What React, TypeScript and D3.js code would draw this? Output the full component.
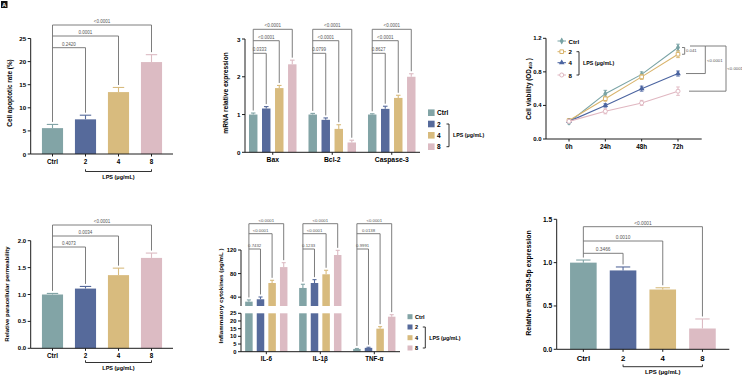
import React from "react";
import * as d3 from "d3";

// ---------- data ----------
const groups = ["Ctrl", "2", "4", "8"];
const barColors = ["#82a4a6", "#566a9b", "#d8bb7e", "#dcbbc3"];
const lineColors = ["#79a3a5", "#d9b46c", "#4b64a0", "#e0b7c1"];

// A: apoptosis
const apoptosisMean = [5.6, 7.5, 13.4, 19.9];
const apoptosisErr = [0.8, 0.9, 1.0, 1.6];
const apoptosisP = ["0.2420", "0.0001", "<0.0001"];
const apoptosisTicks = [0, 5, 10, 15, 20, 25];

// B: mRNA
const genes = ["Bax", "Bcl-2", "Caspase-3"];
const mrnaMean = [
  [1.0, 1.16, 1.7, 2.33],
  [1.0, 0.86, 0.62, 0.26],
  [1.0, 1.15, 1.44, 2.0],
];
const mrnaErr = [
  [0.04, 0.05, 0.07, 0.11],
  [0.03, 0.05, 0.11, 0.06],
  [0.02, 0.07, 0.07, 0.08],
];
const mrnaP = [
  ["0.0333", "<0.0001", "<0.0001"],
  ["0.0799", "<0.0001", "<0.0001"],
  ["0.8627", "<0.0001", "<0.0001"],
];
const mrnaTicks = [0, 1, 2, 3];

// C: viability
const timePoints = ["0h", "24h", "48h", "72h"];
const viabilityMean = [
  [0.2, 0.54, 0.77, 1.09],
  [0.22, 0.48, 0.74, 1.01],
  [0.21, 0.4, 0.6, 0.78],
  [0.21, 0.33, 0.43, 0.57],
];
const viabilityErr = [
  [0.02, 0.04, 0.03, 0.04],
  [0.02, 0.03, 0.03, 0.04],
  [0.01, 0.02, 0.03, 0.03],
  [0.01, 0.03, 0.03, 0.05],
];
const viabilityTicks = [0, 0.4, 0.8, 1.2];
const viabilityP = ["0.041", "<0.0001", "<0.0001"];

// D: permeability
const permeabilityMean = [1.0, 1.11, 1.36, 1.68];
const permeabilityErr = [0.02, 0.04, 0.13, 0.09];
const permeabilityP = ["0.4073", "0.0034", "<0.0001"];
const permeabilityTicks = [0, 0.5, 1.0, 1.5, 2.0];

// E: cytokines (broken axis at 25)
const cytokines = ["IL-6", "IL-1β", "TNF-α"];
const cytokineMean = [
  [32.4, 36.4, 64, 91],
  [55.6, 64, 78.8, 111.5],
  [1.8, 2.5, 15.0, 22.8],
];
const cytokineErr = [
  [2.9, 3.9, 4.6, 7.5],
  [6.3, 5.7, 6.8, 7.9],
  [0.3, 0.4, 1.3, 1.3],
];
const cytokineP = [
  ["0.7432", "<0.0001", "<0.0001"],
  ["0.1233", "<0.0001", "<0.0001"],
  ["0.9991", "0.0138", "<0.0001"],
];
const cytokineLowTicks = [0, 5, 10, 15, 20, 25];
const cytokineHighTicks = [40, 80, 120];
const cytokineBreak = 25;

// F: miR-539-5p
const mirMean = [1.0, 0.91, 0.69, 0.24];
const mirErr = [0.03, 0.04, 0.02, 0.11];
const mirP = ["0.3466", "0.0010", "<0.0001"];
const mirTicks = [0, 0.5, 1.0, 1.5];

// ---------- styling ----------
const FONT = "'Liberation Sans', Arial, Helvetica, sans-serif";
const AXIS = "#1c1c1c";
const BRACKET = "#6f6f6f";
const PTEXT = "#555";
const LPS = "LPS (μg/mL)";

type Lin = d3.ScaleLinear<number, number>;

function YAxis({ x, scale, ticks, fmt, fs = 6 }: { x: number; scale: Lin; ticks: number[]; fmt: (v: number) => string; fs?: number }) {
  const [r0, r1] = scale.range();
  return (
    <g>
      <line x1={x} x2={x} y1={r0} y2={r1} stroke={AXIS} strokeWidth={1} />
      {ticks.map((t) => (
        <g key={t}>
          <line x1={x - 3} x2={x} y1={scale(t)} y2={scale(t)} stroke={AXIS} strokeWidth={1} />
          <text x={x - 4.5} y={scale(t)} textAnchor="end" dominantBaseline="central" fontSize={fs} fontWeight="bold">
            {fmt(t)}
          </text>
        </g>
      ))}
    </g>
  );
}

function XAxis({ x0, x1, y, ticks, labels, fs = 6.5, dy = 8.5 }: { x0: number; x1: number; y: number; ticks: number[]; labels: string[]; fs?: number; dy?: number }) {
  return (
    <g>
      <line x1={x0} x2={x1} y1={y} y2={y} stroke={AXIS} strokeWidth={1} />
      {ticks.map((t, i) => (
        <g key={i}>
          <line x1={t} x2={t} y1={y} y2={y + 2.5} stroke={AXIS} strokeWidth={1} />
          <text x={t} y={y + dy} textAnchor="middle" dominantBaseline="central" fontSize={fs} fontWeight="bold">
            {labels[i]}
          </text>
        </g>
      ))}
    </g>
  );
}

function YLabel({ x, y, fs = 6.5, children }: { x: number; y: number; fs?: number; children: React.ReactNode }) {
  return (
    <text transform={`translate(${x},${y}) rotate(-90)`} textAnchor="middle" dominantBaseline="central" fontSize={fs} fontWeight="bold">
      {children}
    </text>
  );
}

function Bar({ x, w, y0, y1, err, color }: { x: number; w: number; y0: number; y1: number; err: number; color: string }) {
  const cx = x + w / 2;
  const cap = w * 0.27;
  return (
    <g>
      <rect x={x} y={y1} width={w} height={Math.max(0, y0 - y1)} fill={color} />
      <line x1={cx} x2={cx} y1={y1} y2={err} stroke={color} strokeWidth={1.1} />
      <line x1={cx - cap} x2={cx + cap} y1={err} y2={err} stroke={color} strokeWidth={1.1} />
    </g>
  );
}

// brackets comparing the first bar to each of the others
function Brackets({ cx, tops, lines, labels, fs = 4.5 }: { cx: number[]; tops: number[]; lines: number[]; labels: string[]; fs?: number }) {
  const gap = 2.5;
  return (
    <g>
      <line x1={cx[0]} x2={cx[0]} y1={lines[lines.length - 1]} y2={tops[0] - gap} stroke={BRACKET} strokeWidth={0.9} />
      {lines.map((ly, i) => (
        <g key={i}>
          <line x1={cx[0]} x2={cx[i + 1]} y1={ly} y2={ly} stroke={BRACKET} strokeWidth={0.9} />
          <line x1={cx[i + 1]} x2={cx[i + 1]} y1={ly} y2={tops[i + 1] - gap} stroke={BRACKET} strokeWidth={0.9} />
          <text x={(cx[0] + cx[i + 1]) / 2} y={ly - 2.2} textAnchor="middle" fontSize={fs} fill={PTEXT}>
            {labels[i]}
          </text>
        </g>
      ))}
    </g>
  );
}

function LpsBracket({ x0, x1, y, fs = 5.5 }: { x0: number; x1: number; y: number; fs?: number }) {
  return (
    <g>
      <path d={`M${x0},${y - 2.2}V${y}H${x1}V${y - 2.2}`} fill="none" stroke={AXIS} strokeWidth={0.9} />
      <text x={(x0 + x1) / 2} y={y + 5} textAnchor="middle" dominantBaseline="central" fontSize={fs} fontWeight="bold">
        {LPS}
      </text>
    </g>
  );
}

function SimpleBars({ xs, y, mean, err, pvals, lines, pfs }: { xs: d3.ScaleBand<string>; y: Lin; mean: number[]; err: number[]; pvals: string[]; lines: number[]; pfs?: number }) {
  const w = xs.bandwidth();
  const cx = groups.map((g) => (xs(g) as number) + w / 2);
  const tops = mean.map((m, i) => y(m + err[i]));
  return (
    <g>
      {groups.map((g, i) => (
        <Bar key={g} x={xs(g) as number} w={w} y0={y(0)} y1={y(mean[i])} err={tops[i]} color={barColors[i]} />
      ))}
      <Brackets cx={cx} tops={tops} lines={lines} labels={pvals} fs={pfs} />
    </g>
  );
}

function GroupLegend({ x, ys, size, fs, bracketX, lpsFs }: { x: number; ys: number[]; size: number; fs: number; bracketX: number; lpsFs: number }) {
  return (
    <g>
      {groups.map((g, i) => (
        <g key={g}>
          <rect x={x} y={ys[i] - size / 2} width={size} height={size} fill={barColors[i]} />
          <text x={x + size + 2.5} y={ys[i]} dominantBaseline="central" fontSize={fs} fontWeight="bold">
            {g}
          </text>
        </g>
      ))}
      <path d={`M${bracketX - 2.5},${ys[1]}H${bracketX}V${ys[3]}H${bracketX - 2.5}`} fill="none" stroke={AXIS} strokeWidth={0.9} />
      <text x={bracketX + 4} y={(ys[1] + ys[3]) / 2} dominantBaseline="central" fontSize={lpsFs} fontWeight="bold">
        {LPS}
      </text>
    </g>
  );
}

const fmt0 = (v: number) => d3.format("d")(v);
const fmt1 = (v: number) => d3.format(".1f")(v);

function PanelA() {
  const x = d3.scaleBand<string>().domain(groups).range([36, 168]).paddingInner(0.36).paddingOuter(0.18);
  const y = d3.scaleLinear().domain([0, 25]).range([154, 38.5]);
  const cx = groups.map((g) => (x(g) as number) + x.bandwidth() / 2);
  return (
    <g>
      <SimpleBars xs={x} y={y} mean={apoptosisMean} err={apoptosisErr} pvals={apoptosisP} lines={[47.7, 36, 25]} />
      <YAxis x={30.7} scale={y} ticks={apoptosisTicks} fmt={fmt0} fs={6.2} />
      <XAxis x0={30.7} x1={173} y={154} ticks={cx} labels={groups} fs={6.3} dy={7.5} />
      <LpsBracket x0={cx[1]} x1={cx[3]} y={171.5} />
      <YLabel x={9} y={93} fs={6.4}>Cell apoptotic rate (%)</YLabel>
    </g>
  );
}

function PanelB() {
  const x0 = d3.scaleBand<string>().domain(genes).range([243, 421.5]);
  const x1 = d3.scaleBand<string>().domain(groups).range([0, x0.bandwidth()]).paddingInner(0.35).paddingOuter(0.46);
  const y = d3.scaleLinear().domain([0, 3]).range([152.3, 39]);
  const w = x1.bandwidth();
  return (
    <g>
      {genes.map((gene, gi) => {
        const base = x0(gene) as number;
        const cx = groups.map((g) => base + (x1(g) as number) + w / 2);
        const tops = mrnaMean[gi].map((m, i) => y(m + mrnaErr[gi][i]));
        return (
          <g key={gene}>
            {groups.map((g, i) => (
              <Bar key={g} x={base + (x1(g) as number)} w={w} y0={y(0)} y1={y(mrnaMean[gi][i])} err={tops[i]} color={barColors[i]} />
            ))}
            <Brackets cx={cx} tops={tops} lines={[53.3, 40.7, 29.3]} labels={mrnaP[gi]} />
          </g>
        );
      })}
      <YAxis x={245} scale={y} ticks={mrnaTicks} fmt={fmt0} fs={6.2} />
      <XAxis x0={245} x1={420} y={152.3} ticks={genes.map((g) => (x0(g) as number) + x0.bandwidth() / 2)} labels={genes} fs={6.8} dy={7} />
      <YLabel x={225.7} y={93} fs={6.6}>mRNA relative expression</YLabel>
      <GroupLegend x={428} ys={[112.7, 124, 135.3, 146.7]} size={6.6} fs={6.5} bracketX={449} lpsFs={5.3} />
    </g>
  );
}

function Marker({ i, x, y }: { i: number; x: number; y: number }) {
  const c = lineColors[i];
  if (i === 0) {
    const p = d3.symbol().type(d3.symbolDiamond).size(14)();
    return (
      <g transform={`translate(${x},${y})`}>
        <path d={p as string} fill={c} />
        <line x1={0} x2={0} y1={-2.6} y2={2.6} stroke={c} strokeWidth={0.9} />
      </g>
    );
  }
  if (i === 1) {
    const p = d3.symbol().type(d3.symbolSquare).size(13)();
    return <path transform={`translate(${x},${y})`} d={p as string} fill="#fff" stroke={c} strokeWidth={1} />;
  }
  if (i === 2) {
    const p = d3.symbol().type(d3.symbolTriangle).size(14)();
    return <path transform={`translate(${x},${y})`} d={p as string} fill={c} />;
  }
  const p = d3.symbol().type(d3.symbolCircle).size(13)();
  return <path transform={`translate(${x},${y})`} d={p as string} fill="#fff" stroke={c} strokeWidth={1} />;
}

function PanelC() {
  const x = d3.scalePoint<string>().domain(timePoints).range([569, 678]);
  const y = d3.scaleLinear().domain([0, 1.2]).range([139, 38.3]);
  const line = d3
    .line<number>()
    .x((_, i) => x(timePoints[i]) as number)
    .y((d) => y(d));
  const legendYs = [41, 51.7, 62.7, 75];
  const s = { stroke: BRACKET, strokeWidth: 0.9, fill: "none" };
  return (
    <g>
      {viabilityMean.map((series, si) => (
        <g key={si}>
          <path d={line(series) as string} fill="none" stroke={lineColors[si]} strokeWidth={1.1} />
          {series.map((v, ti) => {
            const px = x(timePoints[ti]) as number;
            const e = viabilityErr[si][ti];
            return (
              <g key={ti} stroke={lineColors[si]} strokeWidth={0.9}>
                <line x1={px} x2={px} y1={y(v - e)} y2={y(v + e)} />
                <line x1={px - 1.8} x2={px + 1.8} y1={y(v + e)} y2={y(v + e)} />
                <line x1={px - 1.8} x2={px + 1.8} y1={y(v - e)} y2={y(v - e)} />
              </g>
            );
          })}
          {series.map((v, ti) => (
            <Marker key={ti} i={si} x={x(timePoints[ti]) as number} y={y(v)} />
          ))}
        </g>
      ))}
      <YAxis x={546} scale={y} ticks={viabilityTicks} fmt={fmt1} fs={6} />
      <XAxis x0={546} x1={701.7} y={139} ticks={timePoints.map((t) => x(t) as number)} labels={timePoints} fs={6.3} dy={7.7} />
      <YLabel x={528} y={89} fs={6.4}>
        Cell viability (OD
        <tspan fontSize={4.2} dy={1.6}>450</tspan>
        <tspan dy={-1.6}> )</tspan>
      </YLabel>
      {groups.map((g, i) => (
        <g key={g}>
          <line x1={557.5} x2={566} y1={legendYs[i]} y2={legendYs[i]} stroke={lineColors[i]} strokeWidth={1} />
          <Marker i={i} x={561.7} y={legendYs[i]} />
          <text x={568.5} y={legendYs[i]} dominantBaseline="central" fontSize={6.2} fontWeight="bold">
            {g}
          </text>
        </g>
      ))}
      <path d={`M576.5,${legendYs[1]}H579V${legendYs[3]}H576.5`} {...s} stroke={AXIS} />
      <text x={583} y={62.7} dominantBaseline="central" fontSize={5.3} fontWeight="bold">
        {LPS}
      </text>
      {/* comparisons at 72h */}
      <path d={`M682,${y(viabilityMean[0][3])}H684.7V${y(viabilityMean[1][3])}H682`} {...s} />
      <text x={686} y={50.7} dominantBaseline="central" fontSize={4.3} fill={PTEXT}>
        {viabilityP[0]}
      </text>
      <path d={`M690,46H705.3V${y(viabilityMean[2][3])}H686`} {...s} />
      <text x={707} y={60} dominantBaseline="central" fontSize={4.3} fill={PTEXT}>
        {viabilityP[1]}
      </text>
      <path d={`M705.3,46H726V${y(viabilityMean[3][3])}H689`} {...s} />
      <text x={727.3} y={68.3} dominantBaseline="central" fontSize={4.3} fill={PTEXT}>
        {viabilityP[2]}
      </text>
    </g>
  );
}

function PanelD() {
  const x = d3.scaleBand<string>().domain(groups).range([36, 168]).paddingInner(0.36).paddingOuter(0.18);
  const y = d3.scaleLinear().domain([0, 2]).range([348.3, 240.7]);
  const cx = groups.map((g) => (x(g) as number) + x.bandwidth() / 2);
  return (
    <g>
      <SimpleBars xs={x} y={y} mean={permeabilityMean} err={permeabilityErr} pvals={permeabilityP} lines={[247, 236, 225]} />
      <YAxis x={30.7} scale={y} ticks={permeabilityTicks} fmt={fmt1} fs={6} />
      <XAxis x0={30.7} x1={173} y={348.3} ticks={cx} labels={groups} fs={6.3} dy={7.5} />
      <LpsBracket x0={cx[1]} x1={cx[3]} y={362.5} />
      <YLabel x={7.3} y={294} fs={6}>Relative paracellular permeability</YLabel>
    </g>
  );
}

function PanelE() {
  const x0 = d3.scaleBand<string>().domain(cytokines).range([239.3, 401.3]);
  const x1 = d3.scaleBand<string>().domain(groups).range([0, x0.bandwidth()]).paddingInner(0.353).paddingOuter(0.504);
  const yLow = d3.scaleLinear().domain([0, cytokineBreak]).range([351.7, 313.3]);
  const yHigh = d3.scaleLinear().domain([cytokineBreak, 120]).range([306, 250]);
  const yv = (v: number) => (v <= cytokineBreak ? yLow(v) : yHigh(v));
  const w = x1.bandwidth();
  return (
    <g>
      {cytokines.map((cy, gi) => {
        const base = x0(cy) as number;
        const cx = groups.map((g) => base + (x1(g) as number) + w / 2);
        const tops = cytokineMean[gi].map((m, i) => yv(m + cytokineErr[gi][i]));
        return (
          <g key={cy}>
            {groups.map((g, i) => {
              const m = cytokineMean[gi][i];
              const bx = base + (x1(g) as number);
              if (m <= cytokineBreak) {
                return <Bar key={g} x={bx} w={w} y0={yLow(0)} y1={yLow(m)} err={tops[i]} color={barColors[i]} />;
              }
              return (
                <g key={g}>
                  <rect x={bx} y={yLow(cytokineBreak)} width={w} height={yLow(0) - yLow(cytokineBreak)} fill={barColors[i]} />
                  <Bar x={bx} w={w} y0={yHigh(cytokineBreak)} y1={yHigh(m)} err={tops[i]} color={barColors[i]} />
                </g>
              );
            })}
            <Brackets cx={cx} tops={tops} lines={[249, 233.7, 223.7]} labels={cytokineP[gi]} fs={4.3} />
          </g>
        );
      })}
      <YAxis x={241} scale={yHigh} ticks={cytokineHighTicks} fmt={fmt0} fs={5.8} />
      <YAxis x={241} scale={yLow} ticks={cytokineLowTicks} fmt={fmt0} fs={5.8} />
      <XAxis x0={241} x1={400} y={351.7} ticks={cytokines.map((c) => (x0(c) as number) + x0.bandwidth() / 2)} labels={cytokines} fs={6.3} dy={7} />
      <YLabel x={220} y={296} fs={6.2}>Inflammatory cytokines (pg/mL )</YLabel>
      <GroupLegend x={407.5} ys={[316.7, 327, 337.7, 348]} size={5} fs={5.6} bracketX={425.3} lpsFs={5.3} />
    </g>
  );
}

function PanelF() {
  const x = d3.scaleBand<string>().domain(groups).range([563.5, 722.3]).paddingInner(0.33).paddingOuter(0.165);
  const y = d3.scaleLinear().domain([0, 1.5]).range([349.3, 219.3]);
  const cx = groups.map((g) => (x(g) as number) + x.bandwidth() / 2);
  return (
    <g>
      <SimpleBars xs={x} y={y} mean={mirMean} err={mirErr} pvals={mirP} lines={[253.3, 241, 226.7]} pfs={4.8} />
      <YAxis x={556.7} scale={y} ticks={mirTicks} fmt={fmt1} fs={6.7} />
      <XAxis x0={556.7} x1={729.3} y={349.3} ticks={cx} labels={groups} fs={7.8} dy={9} />
      <LpsBracket x0={cx[1]} x1={cx[3]} y={366.7} fs={6} />
      <YLabel x={528.3} y={283} fs={7}>Relative miR-539-5p expression</YLabel>
    </g>
  );
}

export default function App() {
  return (
    <svg
      width={742}
      height={377}
      viewBox="0 0 742 377"
      style={{ position: "absolute", left: 0, top: 0, background: "#fff" }}
      fontFamily={FONT}
    >
      <rect width={742} height={377} fill="#fff" />
      <rect x={1} y={1} width={6.5} height={7} fill="#111" />
      <text x={4.25} y={6.6} textAnchor="middle" fontSize={6} fontWeight="bold" fill="#fff">
        A
      </text>
      <PanelA />
      <PanelB />
      <PanelC />
      <PanelD />
      <PanelE />
      <PanelF />
    </svg>
  );
}
